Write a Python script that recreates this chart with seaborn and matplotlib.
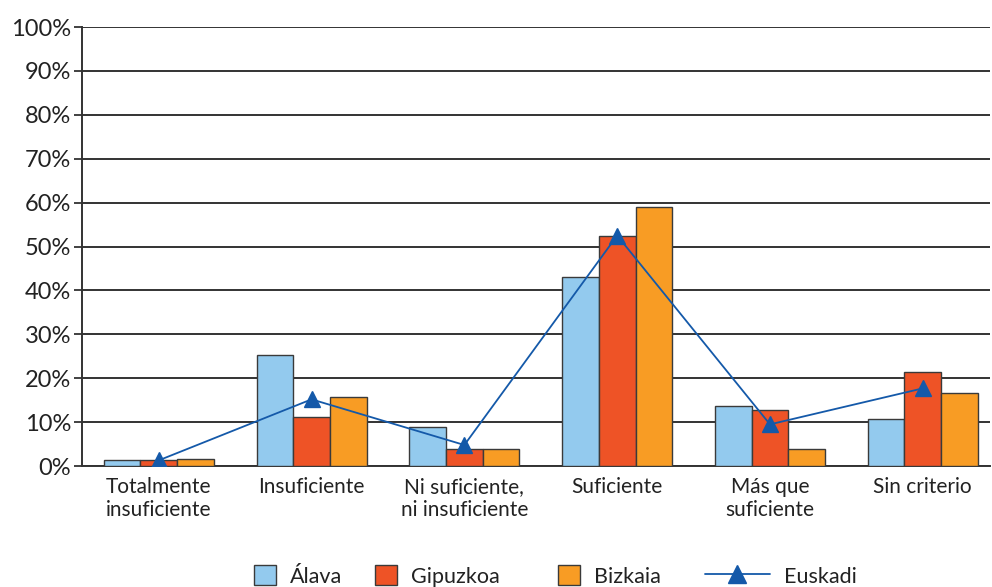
import matplotlib
matplotlib.use("Agg")
import matplotlib.pyplot as plt
from matplotlib.lines import Line2D
from matplotlib.patches import Patch
import seaborn as sns
import pandas as pd

categories = ["Totalmente\ninsuficiente", "Insuficiente", "Ni suficiente,\nni insuficiente",
              "Suficiente", "Más que\nsuficiente", "Sin criterio"]
alava = [1.3, 25.2, 8.9, 43.0, 13.6, 10.7]
gipuzkoa = [1.3, 11.1, 3.9, 52.5, 12.7, 21.4]
bizkaia = [1.7, 15.7, 3.9, 58.9, 3.9, 16.6]
euskadi = [1.3, 15.2, 4.8, 52.5, 9.5, 17.7]
y_ticks = list(range(0, 101, 10))
y_labels = [f"{v}%" for v in y_ticks]

series_names = ["Álava", "Gipuzkoa", "Bizkaia"]
colors = ["#93CAEE", "#EE5326", "#F89C24"]
line_color = "#1459A9"
edge = "#3a3a3a"

rows = []
for name, vals in zip(series_names, [alava, gipuzkoa, bizkaia]):
    for cat, v in zip(categories, vals):
        rows.append({"cat": cat, "serie": name, "valor": v})
df = pd.DataFrame(rows)
df_line = pd.DataFrame({"cat": categories, "valor": euskadi})

sns.set_theme(style="white")
plt.rcParams["font.family"] = ["Lato", "DejaVu Sans"]

fig = plt.figure(figsize=(9.92, 5.87), dpi=100)
ax = fig.add_axes([0.083, 0.206, 0.915, 0.748])

sns.barplot(data=df, x="cat", y="valor", hue="serie", order=categories,
            hue_order=series_names, palette=colors, saturation=1, width=0.72, gap=0,
            edgecolor=edge, linewidth=1.0, ax=ax, legend=False, zorder=3)

sns.pointplot(data=df_line, x="cat", y="valor", order=categories, color=line_color,
              markers="^", markersize=12, linewidth=1.3, ax=ax, zorder=5)

ax.set_ylim(0, 100)
ax.set_xlim(-0.5, 5.44)
ax.set_yticks(y_ticks)
ax.set_yticklabels(y_labels, fontsize=17, color="#222222")
ax.tick_params(axis="x", length=0, labelsize=15, colors="#222222", pad=8)
ax.tick_params(axis="y", length=6, width=1.3, color="#333333", direction="out", pad=2, left=True)
ax.yaxis.grid(True, color="#333333", linewidth=1.4)
ax.set_axisbelow(True)
ax.set_xlabel("")
ax.set_ylabel("")
for side in ["top", "right"]:
    ax.spines[side].set_visible(False)
for side in ["left", "bottom"]:
    ax.spines[side].set_color("#333333")
    ax.spines[side].set_linewidth(1.4)

# one legend entry per series, placed along the bottom of the figure
W, H = 992, 587
legend_y = 1 - 576 / H
entries = [
    (Patch(facecolor=colors[0], edgecolor=edge, linewidth=1.0), series_names[0], 254, 1.0),
    (Patch(facecolor=colors[1], edgecolor=edge, linewidth=1.0), series_names[1], 375, 1.0),
    (Patch(facecolor=colors[2], edgecolor=edge, linewidth=1.0), series_names[2], 558, 1.0),
    (Line2D([0], [0], color=line_color, marker="^", markersize=13, linewidth=1.3), "Euskadi", 705, 3.0),
]
for handle, label, xpix, hl in entries:
    leg = fig.legend([handle], [label], loc="center left", bbox_to_anchor=(xpix / W, legend_y),
                     frameon=False, fontsize=15.5, handlelength=hl, handleheight=1.0,
                     handletextpad=0.65, borderpad=0, borderaxespad=0)
    for t in leg.get_texts():
        t.set_color("#222222")

fig.savefig("out.png", dpi=100)
